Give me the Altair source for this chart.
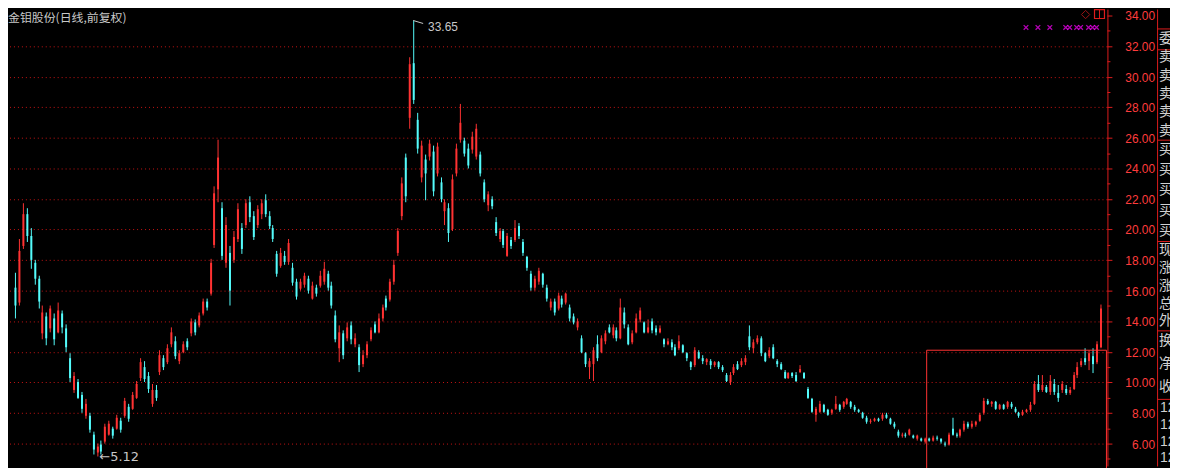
import altair as alt
import pandas as pd

# ---------------- data ----------------
opens = [
    16.2, 15.2, 18.9, 21.0, 19.6, 17.8, 16.8, 13.2, 14.3, 13.5,
    14.2, 13.3, 14.5, 13.5, 11.6, 9.5, 10.0, 9.2, 7.8, 7.8,
    6.6, 5.4, 5.9, 6.1, 6.6, 7.0, 7.0, 7.5, 7.8, 8.4,
    8.3, 9.0, 10.3, 11.0, 10.4, 8.6, 9.5, 10.7, 11.6, 11.3,
    12.5, 12.7, 11.4, 12.0, 12.7, 13.2, 13.9, 13.7, 14.5, 15.3,
    15.8, 19.0, 22.6, 21.4, 17.8, 18.5, 18.0, 19.4, 20.1, 20.3,
    21.8, 20.9, 20.3, 21.0, 21.9, 20.9, 20.1, 18.4, 17.6, 18.3,
    17.9, 17.5, 16.6, 16.1, 16.4, 16.8, 15.5, 16.2, 16.3, 16.6,
    17.1, 16.3, 14.4, 12.2, 13.2, 12.9, 13.7, 12.5, 12.3, 11.2,
    11.8, 12.8, 13.8, 13.3, 14.2, 15.5, 15.4, 16.6, 18.5, 20.9,
    24.7, 27.3, 30.9, 27.2, 23.4, 24.6, 24.8, 25.1, 23.7, 23.1,
    21.2, 21.4, 20.0, 23.7, 25.9, 25.8, 25.3, 25.2, 24.8, 24.9,
    23.1, 21.6, 22.0, 20.5, 19.4, 19.9, 18.3, 19.3, 19.3, 20.2,
    19.2, 18.2, 17.1, 16.2, 16.6, 17.1, 16.2, 14.9, 15.3, 14.8,
    15.5, 15.2, 14.9, 14.3, 13.6, 12.9, 11.9, 11.0, 11.2, 12.5,
    12.0, 12.7, 13.6, 13.1, 13.4, 12.9, 14.6, 13.6, 12.6, 13.3,
    14.1, 13.9, 13.3, 14.0, 13.5, 13.3, 12.8, 12.5, 12.6, 12.3,
    12.2, 12.4, 11.9, 11.3, 11.1, 12.0, 11.6, 11.3, 11.4, 11.1,
    11.3, 11.0, 10.5, 10.0, 10.6, 11.2, 11.1, 11.3, 13.0, 12.2,
    12.6, 12.9, 11.9, 11.7, 12.3, 11.4, 11.2, 10.7, 10.3, 10.6,
    10.5, 10.7, 10.6, 9.6, 8.9, 7.9, 8.1, 8.5, 8.2, 8.0,
    8.3, 8.5, 8.4, 8.6, 8.7, 8.4, 8.2, 8.0, 7.7, 7.4,
    7.5, 7.6, 7.6, 7.9, 7.6, 7.3, 6.8, 6.5, 6.6, 6.6,
    6.5, 6.3, 6.3, 6.1, 6.3, 6.2, 6.4, 6.3, 6.0, 5.9,
    7.0, 6.6, 6.5, 6.9, 7.3, 7.1, 7.2, 7.5, 8.0, 8.8,
    8.6, 8.7, 8.3, 8.5, 8.4, 8.6, 8.3, 8.0, 7.9, 8.1,
    8.2, 8.6, 9.9, 9.5, 9.7, 9.4, 9.9, 9.3, 9.5, 9.6,
    9.3, 9.6, 10.5, 11.1, 11.6, 11.4, 11.7, 11.3, 12.3,
]
closes = [
    15.0, 18.6, 21.0, 19.6, 18.0, 16.8, 15.3, 14.6, 12.9, 14.8,
    12.8, 14.7, 13.6, 12.3, 10.3, 10.4, 9.0, 8.3, 8.6, 6.9,
    5.6, 5.8, 5.5, 7.1, 7.3, 6.5, 7.7, 6.9, 8.8, 7.6,
    9.2, 9.9, 11.3, 10.2, 9.6, 9.5, 9.0, 11.8, 11.0, 12.2,
    13.3, 11.7, 11.9, 12.5, 12.3, 14.0, 13.3, 14.4, 15.3, 14.9,
    17.8, 22.4, 24.7, 18.3, 20.3, 16.0, 19.5, 21.3, 18.7, 21.7,
    20.8, 19.5, 21.3, 21.7, 21.0, 20.2, 19.4, 17.1, 18.5, 17.9,
    19.1, 16.5, 15.6, 16.6, 17.0, 16.0, 16.3, 15.8, 17.0, 17.4,
    16.2, 15.0, 12.8, 13.3, 11.8, 13.6, 12.8, 12.9, 11.1, 11.8,
    12.5, 13.4, 13.3, 14.2, 14.9, 14.9, 16.6, 17.7, 19.9, 23.0,
    22.2, 30.8, 28.5, 25.3, 25.5, 23.7, 25.6, 22.5, 25.4, 22.0,
    21.8, 19.8, 23.3, 25.3, 27.0, 25.0, 24.2, 26.1, 26.6, 23.7,
    22.0, 22.3, 21.5, 19.8, 19.9, 19.0, 19.6, 18.9, 20.1, 19.6,
    18.5, 17.5, 16.2, 16.8, 17.3, 16.4, 15.5, 15.3, 14.6, 15.7,
    15.1, 15.8, 14.2, 13.9, 14.0, 12.0, 11.2, 11.4, 12.1, 11.6,
    12.9, 13.2, 13.3, 13.6, 12.9, 14.9, 13.8, 12.5, 13.2, 14.2,
    14.7, 13.3, 13.6, 13.4, 13.3, 13.5, 12.5, 12.7, 12.3, 11.8,
    12.7, 12.0, 11.6, 11.0, 12.1, 11.6, 11.4, 11.5, 11.1, 11.3,
    11.0, 10.8, 10.1, 10.5, 11.0, 10.9, 11.4, 11.6, 12.3, 12.6,
    12.9, 11.9, 11.4, 12.1, 11.6, 11.2, 10.9, 10.3, 10.6, 10.4,
    10.1, 10.9, 10.3, 9.0, 8.1, 8.3, 8.6, 8.1, 7.9, 8.2,
    8.6, 8.2, 8.7, 8.9, 8.4, 8.2, 8.1, 7.7, 7.4, 7.5,
    7.6, 7.5, 7.9, 7.7, 7.3, 7.1, 6.5, 6.6, 6.5, 6.9,
    6.4, 6.5, 6.2, 6.3, 6.2, 6.4, 6.3, 6.1, 5.9, 6.6,
    6.6, 6.5, 6.9, 7.3, 7.1, 7.3, 7.4, 7.9, 8.8, 8.6,
    8.7, 8.3, 8.5, 8.3, 8.7, 8.4, 8.1, 7.8, 8.1, 8.2,
    8.5, 9.9, 9.5, 9.8, 9.4, 10.1, 9.4, 9.0, 9.9, 9.3,
    9.5, 10.5, 11.0, 11.4, 11.3, 11.9, 11.2, 12.5, 14.8,
]
highs = [
    17.2, 19.4, 21.7, 21.4, 20.1, 18.0, 17.0, 15.0, 14.6, 15.0,
    14.5, 15.2, 14.7, 13.8, 11.9, 10.7, 10.2, 9.4, 8.9, 8.0,
    6.8, 6.0, 6.2, 7.3, 7.5, 7.1, 7.9, 7.7, 9.0, 8.6,
    9.4, 10.1, 11.6, 11.4, 10.7, 9.9, 9.8, 12.1, 11.8, 12.5,
    13.6, 13.0, 12.1, 12.7, 12.9, 14.2, 14.1, 14.6, 15.5, 15.5,
    18.1, 22.8, 25.9, 21.8, 20.8, 18.9, 19.9, 21.7, 20.4, 22.0,
    22.2, 21.2, 21.6, 22.0, 22.3, 21.2, 20.3, 18.6, 18.8, 18.6,
    19.4, 17.8, 16.8, 16.8, 17.2, 17.0, 16.6, 16.4, 17.3, 17.9,
    17.3, 16.6, 14.7, 13.7, 13.4, 13.9, 14.0, 13.2, 12.5, 12.1,
    12.7, 13.6, 14.0, 14.5, 15.1, 15.7, 16.8, 18.0, 20.1, 23.4,
    25.0, 31.3, 33.65, 27.6, 25.8, 24.9, 25.9, 25.5, 25.7, 23.4,
    22.0, 21.7, 23.6, 25.6, 28.2, 26.0, 25.6, 26.4, 26.9, 25.1,
    23.3, 22.5, 22.2, 20.8, 20.1, 20.0, 19.8, 19.5, 20.6, 20.4,
    19.4, 18.3, 17.3, 17.0, 17.5, 17.2, 16.4, 15.5, 15.5, 15.9,
    15.7, 15.9, 15.1, 14.5, 14.2, 13.1, 12.0, 11.6, 12.3, 13.1,
    13.1, 13.4, 13.8, 13.8, 13.6, 15.5, 14.9, 13.8, 13.4, 14.5,
    14.9, 14.0, 14.1, 14.2, 13.7, 13.7, 12.9, 12.9, 12.8, 12.5,
    13.1, 12.5, 12.0, 11.4, 12.3, 12.1, 11.8, 11.6, 11.5, 11.4,
    11.4, 11.1, 10.6, 10.7, 11.2, 11.4, 11.6, 11.8, 13.7, 12.8,
    13.1, 13.0, 12.0, 12.3, 12.5, 11.5, 11.3, 10.8, 10.7, 10.7,
    10.7, 11.1, 10.7, 9.7, 9.0, 8.4, 8.8, 8.6, 8.3, 8.3,
    9.1, 8.6, 8.8, 9.0, 8.8, 8.5, 8.3, 8.1, 7.8, 7.6,
    7.7, 7.7, 8.0, 8.0, 7.7, 7.4, 6.9, 6.7, 6.7, 7.0,
    6.6, 6.6, 6.4, 6.4, 6.4, 6.5, 6.5, 6.3, 6.1, 6.7,
    7.7, 6.7, 7.0, 7.5, 7.4, 7.5, 7.5, 8.0, 9.0, 8.9,
    8.8, 8.8, 8.6, 8.6, 8.8, 8.7, 8.4, 8.1, 8.2, 8.3,
    8.7, 10.1, 10.5, 10.5, 9.8, 10.5, 10.2, 9.8, 10.1, 9.8,
    9.7, 10.7, 11.3, 11.6, 12.2, 12.1, 12.2, 12.7, 15.1,
]
lows = [
    14.2, 15.0, 18.7, 19.2, 17.4, 16.4, 14.8, 12.8, 12.4, 13.3,
    12.4, 13.2, 13.2, 12.0, 10.0, 9.3, 8.9, 8.0, 7.6, 6.7,
    5.3, 5.12, 5.3, 6.0, 6.5, 6.3, 6.9, 6.7, 7.7, 7.4,
    8.2, 8.9, 10.1, 10.0, 9.3, 8.4, 8.8, 10.5, 10.8, 11.2,
    12.3, 11.5, 11.2, 11.9, 12.1, 13.0, 13.1, 13.6, 14.4, 14.7,
    15.7, 18.8, 21.8, 18.0, 17.5, 15.0, 17.8, 19.2, 18.4, 20.1,
    20.5, 19.3, 20.1, 20.7, 20.8, 20.0, 19.2, 16.9, 17.5, 17.7,
    17.7, 16.3, 15.4, 16.0, 16.2, 15.8, 15.4, 15.6, 16.2, 16.4,
    16.0, 14.8, 12.6, 11.3, 11.5, 12.7, 12.5, 12.3, 10.7, 11.0,
    11.6, 12.7, 13.2, 13.2, 14.0, 14.7, 15.3, 16.4, 18.3, 20.6,
    21.8, 26.6, 28.2, 25.0, 23.1, 21.9, 24.5, 22.2, 23.5, 21.8,
    20.3, 19.2, 19.9, 23.5, 25.7, 24.8, 24.0, 25.0, 24.6, 23.5,
    21.8, 21.2, 21.3, 19.6, 19.2, 18.8, 18.2, 18.7, 19.2, 19.4,
    18.3, 17.3, 16.0, 16.0, 16.4, 16.2, 15.3, 14.7, 14.4, 14.7,
    14.9, 15.1, 14.0, 13.8, 13.4, 11.9, 11.0, 10.2, 10.1, 11.4,
    11.9, 12.5, 13.2, 12.9, 12.7, 12.8, 13.5, 12.4, 12.5, 13.2,
    13.9, 13.2, 13.2, 13.2, 13.1, 13.2, 12.3, 12.4, 12.1, 11.7,
    12.1, 11.9, 11.4, 10.8, 11.0, 11.5, 11.2, 11.1, 10.9, 11.0,
    10.9, 10.7, 10.0, 9.8, 10.5, 10.8, 11.0, 11.1, 12.1, 11.9,
    12.5, 11.7, 11.3, 11.6, 11.5, 11.0, 10.8, 10.2, 10.2, 10.3,
    10.0, 10.6, 10.2, 8.9, 8.0, 7.4, 8.0, 8.0, 7.8, 7.9,
    8.2, 8.1, 8.3, 8.5, 8.3, 8.1, 8.0, 7.6, 7.3, 7.3,
    7.4, 7.4, 7.5, 7.6, 7.2, 7.0, 6.4, 6.4, 6.4, 6.5,
    6.3, 6.2, 6.1, 6.0, 6.1, 6.1, 6.2, 6.0, 5.8, 5.85,
    6.5, 6.4, 6.4, 6.8, 7.0, 7.0, 7.1, 7.4, 7.9, 8.5,
    8.4, 8.2, 8.2, 8.2, 8.3, 8.3, 8.0, 7.7, 7.8, 8.0,
    8.1, 8.5, 9.4, 9.4, 9.3, 9.2, 9.2, 8.7, 9.3, 9.2,
    9.2, 9.5, 10.3, 11.0, 11.1, 10.8, 10.6, 11.2, 12.2,
]
N = len(closes)
assert len(opens) == N and len(highs) == N and len(lows) == N

tick_labels = [6, 8, 10, 12, 14, 16, 18, 20, 22, 24, 26, 28, 30, 32, 34]
minor_ticks = [5, 7, 9, 11, 13, 15, 17, 19, 21, 23, 25, 27, 29, 31, 33]
grid_levels = [6, 8, 10, 12, 14, 16, 18, 20, 22, 24, 26, 28, 30, 32]
title_text = "金钼股份(日线,前复权)"
peak_day, peak_price, peak_text = 102, 33.65, "33.65"
low_day, low_price, low_text = 21, 5.12, "←5.12"
signal_days = [259, 262, 265, 269, 270, 272, 273, 275, 276, 277]
signal_level = 33.2
box_days = [233.4, 279.5]
box_top = 12.1
panel_labels = ["委", "卖", "卖", "卖", "卖", "卖", "买", "买", "买", "买", "买",
                "现", "涨", "涨", "总", "外", "换", "净", "收"]
panel_values = ["12.58", "12.57", "12.56", "12.55"]

# ---------------- layout / style (pixels) ----------------
W, H = 1107, 460
panel_label_y = [30, 48, 67, 85, 103, 122, 141, 162, 182, 203, 223,
                 242, 260, 278, 296, 314, 334, 357, 380]
panel_value_y = [401, 418, 435, 452]
panel_sep_y = [19, 40, 131, 233, 323, 392]
UP, DOWN = "#ff3232", "#54fcfc"
AXIS_RED = "#dd1c1c"
GRID_RED = "#c81414"
GREY = "#c8c8c8"

xs = alt.Scale(domain=[-0.5, N - 0.5], nice=False, zero=False, round=True)
ys = alt.Scale(domain=[4.5, 34.39], nice=False, zero=False, round=True)

df = pd.DataFrame({"day": list(range(N)), "open": opens, "close": closes,
                   "high": highs, "low": lows})
df["dir"] = ["up" if c >= o else "down" for o, c in zip(opens, closes)]
color = alt.Color("dir:N", scale=alt.Scale(domain=["up", "down"], range=[UP, DOWN]), legend=None)

one = pd.DataFrame({"k": [0]})

grid = alt.Chart(pd.DataFrame({"v": grid_levels})).mark_rule(
    color=GRID_RED, strokeDash=[1, 3], strokeWidth=1, yOffset=0.5
).encode(y=alt.Y("v:Q", scale=ys, axis=None))

wicks = alt.Chart(df).mark_rule(strokeWidth=1, xOffset=0.5).encode(
    x=alt.X("day:Q", scale=xs, axis=None),
    y=alt.Y("low:Q", scale=ys, axis=None),
    y2="high:Q",
    color=color,
)

bodies = alt.Chart(df).mark_bar(size=2, xOffset=0.5).encode(
    x=alt.X("day:Q", scale=xs, axis=None),
    y=alt.Y("open:Q", scale=ys, axis=None),
    y2="close:Q",
    color=color,
)

# right price axis drawn with marks
axis_line = alt.Chart(one).mark_rule(color=AXIS_RED, strokeWidth=1).encode(
    x=alt.value(W + 0.5), y=alt.value(0), y2=alt.value(H))
major = alt.Chart(pd.DataFrame({"v": tick_labels})).mark_rule(color=AXIS_RED, strokeWidth=1, yOffset=0.5).encode(
    x=alt.value(W), x2=alt.value(W + 5), y=alt.Y("v:Q", scale=ys, axis=None))
minor = alt.Chart(pd.DataFrame({"v": minor_ticks})).mark_rule(color=AXIS_RED, strokeWidth=1, yOffset=0.5).encode(
    x=alt.value(W), x2=alt.value(W + 3), y=alt.Y("v:Q", scale=ys, axis=None))
labels_df = pd.DataFrame({"v": tick_labels, "t": [f"{v:.2f}" for v in tick_labels]})
axis_labels = alt.Chart(labels_df).mark_text(
    align="right", baseline="middle", color="#ff3c3c", font="Liberation Sans", fontSize=12, dy=1
).encode(x=alt.value(W + 48), y=alt.Y("v:Q", scale=ys, axis=None), text="t:N")

box = alt.Chart(one).mark_rect(filled=False, stroke=UP, strokeWidth=1).encode(
    x=alt.XDatum(box_days[0], scale=xs, axis=None),
    x2=alt.X2Datum(box_days[1]),
    y=alt.YDatum(box_top, scale=ys, axis=None),
    y2=alt.Y2Datum(3.5),
)

signals = alt.Chart(pd.DataFrame({"day": signal_days, "lvl": [signal_level] * len(signal_days)})).mark_point(
    shape="M-1,-1L1,1M-1,1L1,-1", size=22, filled=False, color="#ff00ff", strokeWidth=1.3
).encode(x=alt.X("day:Q", scale=xs, axis=None), y=alt.Y("lvl:Q", scale=ys, axis=None))

peak_df = pd.DataFrame({"day": [peak_day], "p": [peak_price], "t": [peak_text],
                        "day2": [peak_day + 2.6], "p2": [peak_price - 0.2]})
peak_flag = alt.Chart(peak_df).mark_rule(color=GREY, strokeWidth=1).encode(
    x=alt.X("day:Q", scale=xs, axis=None), x2="day2:Q",
    y=alt.Y("p:Q", scale=ys, axis=None), y2="p2:Q")
peak_lbl = alt.Chart(peak_df).mark_text(
    align="left", baseline="middle", dx=15, dy=7, color=GREY, font="Liberation Sans", fontSize=12
).encode(x=alt.X("day:Q", scale=xs, axis=None), y=alt.Y("p:Q", scale=ys, axis=None), text="t:N")

low_df = pd.DataFrame({"day": [low_day], "p": [low_price], "t": [low_text]})
low_lbl = alt.Chart(low_df).mark_text(
    align="left", baseline="middle", dx=2, dy=1, color=GREY, font="DejaVu Sans", fontSize=13
).encode(x=alt.X("day:Q", scale=xs, axis=None), y=alt.Y("p:Q", scale=ys, axis=None), text="t:N")

title = alt.Chart(pd.DataFrame({"t": [title_text]})).mark_text(
    align="left", baseline="middle", color=GREY, font="Noto Sans CJK SC", fontSize=12
).encode(x=alt.value(0), y=alt.value(9), text="t:N")

panel_line = alt.Chart(one).mark_rule(color=AXIS_RED, strokeWidth=1).encode(
    x=alt.value(W + 50.5), y=alt.value(0), y2=alt.value(H))
panel_seps = alt.Chart(pd.DataFrame({"py": panel_sep_y})).mark_rule(
    color=AXIS_RED, strokeWidth=1, yOffset=0.5).encode(
    x=alt.value(W + 50), x2=alt.value(W + 63), y=alt.Y("py:Q", scale=None, axis=None))
panel_text = alt.Chart(pd.DataFrame({"t": panel_labels, "py": panel_label_y})).mark_text(
    align="left", baseline="middle", color="#d0d0d0", font="Noto Sans CJK SC", fontSize=14
).encode(x=alt.value(W + 52), y=alt.Y("py:Q", scale=None, axis=None), text="t:N")
panel_nums = alt.Chart(pd.DataFrame({"t": panel_values, "py": panel_value_y})).mark_text(
    align="left", baseline="middle", color="#d0d0d0", font="Liberation Sans", fontSize=14
).encode(x=alt.value(W + 53), y=alt.Y("py:Q", scale=None, axis=None), text="t:N")

icon_diamond = alt.Chart(one).mark_point(
    shape="diamond", filled=False, color=AXIS_RED, size=70, strokeWidth=1
).encode(x=alt.value(1085), y=alt.value(5))
icon_box = alt.Chart(one).mark_rect(filled=False, stroke=AXIS_RED, strokeWidth=1.2).encode(
    x=alt.value(1094), x2=alt.value(1104), y=alt.value(0), y2=alt.value(9))
icon_bar = alt.Chart(one).mark_rule(color=AXIS_RED, strokeWidth=1).encode(
    x=alt.value(1099), y=alt.value(0), y2=alt.value(9))

chart = alt.layer(
    grid, wicks, bodies, axis_line, major, minor, axis_labels, box, signals,
    peak_flag, peak_lbl, low_lbl, title,
    panel_line, panel_seps, panel_text, panel_nums, icon_diamond, icon_box, icon_bar,
).properties(
    width=W, height=H,
    autosize=alt.AutoSizeParams(type="none"),
    padding={"left": 0, "top": 0, "right": 63, "bottom": 0},
).configure(background="#000000").configure_view(stroke=None)

chart.save("out.html", embed_options={"renderer": "svg", "actions": False})
